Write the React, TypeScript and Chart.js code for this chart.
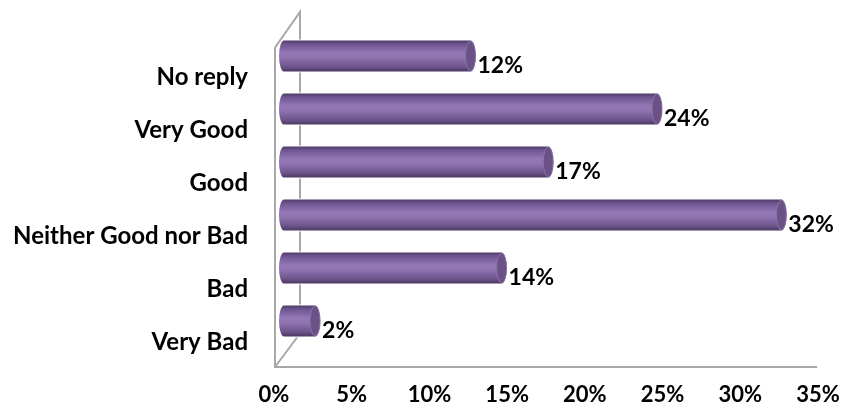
import { useEffect, useRef } from 'react';
import { Chart, registerables } from 'chart.js';

Chart.register(...registerables);

const categories = ['No reply', 'Very Good', 'Good', 'Neither Good nor Bad', 'Bad', 'Very Bad'];
const values = [12, 24, 17, 32, 14, 2];
const axisMin = 0;
const axisMax = 35;
const axisStep = 5;

const FONT = 'Lato, "DejaVu Sans", sans-serif';

const wallsPlugin = {
  id: 'walls3d',
  beforeDatasetsDraw(chart: any) {
    const { ctx, chartArea } = chart;
    const { left, top, right, bottom } = chartArea;
    ctx.save();
    ctx.strokeStyle = '#a8a8a8';
    ctx.lineWidth = 2;
    ctx.beginPath();
    ctx.moveTo(left - 9, top + 18);
    ctx.lineTo(left - 9, bottom + 19.5);
    ctx.lineTo(right - 11, bottom + 19.5);
    ctx.moveTo(left - 9, top + 18);
    ctx.lineTo(left + 16, top - 17.5);
    ctx.lineTo(left + 16, bottom - 14);
    ctx.moveTo(left - 9, bottom + 19.5);
    ctx.lineTo(left + 16, bottom - 14);
    ctx.stroke();
    ctx.restore();
  },
};

const cylinderPlugin = {
  id: 'cylinder3d',
  afterDatasetsDraw(chart: any) {
    const { ctx } = chart;
    const meta = chart.getDatasetMeta(0);
    ctx.save();
    meta.data.forEach((bar: any, i: number) => {
      const { x, y, base, height } = bar.getProps(['x', 'y', 'base', 'height'], true);
      const h = height;
      const ry = h / 2;
      const rx = 5;
      const yTop = y - ry;
      const grad = ctx.createLinearGradient(0, yTop, 0, yTop + h);
      grad.addColorStop(0, '#4e3b67');
      grad.addColorStop(0.12, '#6e5590');
      grad.addColorStop(0.4, '#9377b6');
      grad.addColorStop(0.55, '#9074b2');
      grad.addColorStop(0.85, '#6c5489');
      grad.addColorStop(1, '#4a3862');
      // clear the flat bar drawn by Chart.js underneath
      ctx.fillStyle = '#ffffff';
      ctx.fillRect(base - 1, yTop - 1, x - base + 2, h + 2);
      // body (cylinder)
      ctx.beginPath();
      ctx.moveTo(base, yTop);
      ctx.lineTo(x, yTop);
      ctx.ellipse(x, y, rx, ry, 0, -Math.PI / 2, Math.PI / 2, false);
      ctx.lineTo(base, yTop + h);
      ctx.ellipse(base, y, rx, ry, 0, Math.PI / 2, (3 * Math.PI) / 2, false);
      ctx.closePath();
      ctx.fillStyle = grad;
      ctx.fill();
      // end cap
      ctx.beginPath();
      ctx.ellipse(x, y, rx, ry - 0.5, 0, 0, Math.PI * 2);
      ctx.fillStyle = '#6a5287';
      ctx.fill();
      ctx.strokeStyle = '#8a72a8';
      ctx.lineWidth = 1;
      ctx.stroke();
      // value label
      ctx.fillStyle = '#000000';
      ctx.font = `bold 23px ${FONT}`;
      ctx.textAlign = 'left';
      ctx.textBaseline = 'middle';
      ctx.fillText(values[i] + '%', x + rx + 2, y + 10);
    });
    ctx.restore();
  },
};

export default function App() {
  const ref = useRef<HTMLCanvasElement | null>(null);

  useEffect(() => {
    document.body.style.margin = '0';
    const canvas = ref.current;
    if (!canvas) return;
    const chart = new Chart(canvas, {
      type: 'bar',
      data: {
        labels: categories,
        datasets: [
          {
            data: values,
            backgroundColor: '#8064a2',
            borderWidth: 0,
            barThickness: 31,
          },
        ],
      },
      options: {
        indexAxis: 'y',
        animation: false,
        responsive: false,
        maintainAspectRatio: false,
        layout: { padding: { top: 29.5, right: 14, left: 0, bottom: 0 } },
        plugins: {
          legend: { display: false },
          tooltip: { enabled: false },
        },
        scales: {
          x: {
            min: axisMin,
            max: axisMax,
            grid: { display: false, drawTicks: false },
            border: { display: false },
            ticks: {
              stepSize: axisStep,
              padding: 34,
              labelOffset: -10,
              color: '#000000',
              font: { family: FONT, size: 22, weight: 'bold' },
              callback: (v: any) => v + '%',
            },
            afterFit(scale: any) {
              scale.height = 66.5;
              scale.paddingLeft = 0;
              scale.paddingRight = 0;
            },
          },
          y: {
            grid: { display: false, drawTicks: false },
            border: { display: false },
            ticks: {
              padding: 36,
              labelOffset: 21,
              color: '#000000',
              font: { family: FONT, size: 24, weight: 'bold' },
            },
            afterFit(scale: any) {
              scale.width = 284;
              scale.paddingTop = 0;
              scale.paddingBottom = 0;
            },
          },
        },
      },
      plugins: [wallsPlugin, cylinderPlugin],
    });
    return () => chart.destroy();
  }, []);

  return (
    <div style={{ width: 842, height: 414, background: '#ffffff' }}>
      <canvas ref={ref} width={842} height={414} style={{ display: 'block' }} />
    </div>
  );
}
